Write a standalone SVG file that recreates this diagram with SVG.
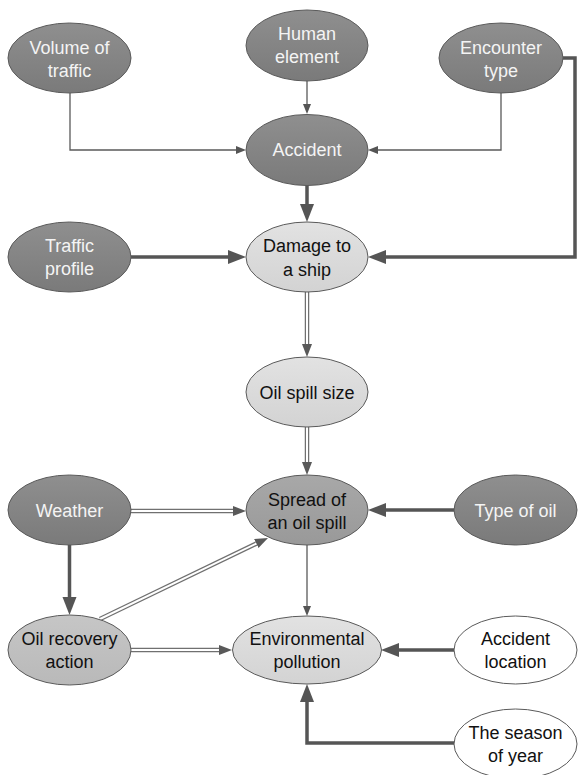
<svg xmlns="http://www.w3.org/2000/svg" width="580" height="775" viewBox="0 0 580 775">
<style>
  .node ellipse { stroke: #5a5a5a; stroke-width: 1; }
  .dark ellipse { fill: url(#gDark); }
  .mid ellipse { fill: url(#gMid); }
  .midlight ellipse { fill: url(#gMidLight); }
  .light ellipse { fill: url(#gLight); }
  .white ellipse { fill: #ffffff; }
  text { font-family: "Liberation Sans", Arial, sans-serif; font-size: 18px; text-anchor: middle; }
  .dark text { fill: #f4f4f4; }
  .mid text, .midlight text, .light text, .white text { fill: #111111; }
  .thin { fill: none; stroke: #595959; stroke-width: 1.3; }
  .thick { fill: none; stroke: #555555; stroke-width: 3.5; }
  .dbl { fill: none; stroke: #707070; stroke-width: 4.5; }
  .dblin { fill: none; stroke: #ffffff; stroke-width: 2; }
</style>
<defs>
  <linearGradient id="gDark" x1="0" y1="0" x2="0" y2="1">
    <stop offset="0" stop-color="#8f8f8f"/><stop offset="1" stop-color="#7a7a7a"/>
  </linearGradient>
  <linearGradient id="gMid" x1="0" y1="0" x2="0" y2="1">
    <stop offset="0" stop-color="#a8a8a8"/><stop offset="1" stop-color="#999999"/>
  </linearGradient>
  <linearGradient id="gMidLight" x1="0" y1="0" x2="0" y2="1">
    <stop offset="0" stop-color="#c6c6c6"/><stop offset="1" stop-color="#b9b9b9"/>
  </linearGradient>
  <linearGradient id="gLight" x1="0" y1="0" x2="0" y2="1">
    <stop offset="0" stop-color="#e2e2e2"/><stop offset="1" stop-color="#d3d3d3"/>
  </linearGradient>
  <marker id="aThin" markerUnits="userSpaceOnUse" markerWidth="12" markerHeight="10" refX="0" refY="5" orient="auto" viewBox="0 0 12 10">
    <path d="M0,1 L10,5 L0,9 z" fill="#555555"/>
  </marker>
  <marker id="aThick" markerUnits="userSpaceOnUse" markerWidth="20" markerHeight="16" refX="0" refY="8" orient="auto" viewBox="0 0 20 16">
    <path d="M0,1 L18,8 L0,15 z" fill="#555555"/>
  </marker>
  <marker id="aDbl" markerUnits="userSpaceOnUse" markerWidth="14" markerHeight="12" refX="0" refY="6" orient="auto" viewBox="0 0 14 12">
    <path d="M0,1 L13,6 L0,11 z" fill="#595959"/>
  </marker>
</defs>

<g id="connectors">
  <path class="thin" d="M70,93 V150 H236" marker-end="url(#aThin)"/>
  <path class="thin" d="M307,81 V104" marker-end="url(#aThin)"/>
  <path class="thin" d="M501,93 V150 H378" marker-end="url(#aThin)"/>
  <path class="thick" d="M307,185 V204" marker-end="url(#aThick)"/>
  <path class="thick" d="M131,257 H228" marker-end="url(#aThick)"/>
  <path class="thick" d="M563,58 H575 V257 H386" marker-end="url(#aThick)"/>
  <path class="dbl" d="M307,292 V344" marker-end="url(#aDbl)"/>
  <path class="dblin" d="M307,292 V344"/>
  <path class="dbl" d="M307,427 V462" marker-end="url(#aDbl)"/>
  <path class="dblin" d="M307,427 V462"/>
  <path class="dbl" d="M131,511 H233" marker-end="url(#aDbl)"/>
  <path class="dblin" d="M131,511 H233"/>
  <path class="thick" d="M454,510 H386" marker-end="url(#aThick)"/>
  <path class="thick" d="M69.5,545 V597" marker-end="url(#aThick)"/>
  <path class="dbl" d="M100,619 L256.3,543.6" marker-end="url(#aDbl)"/>
  <path class="dblin" d="M100,619 L256.3,543.6"/>
  <path class="thin" d="M307,545 V606" marker-end="url(#aThin)"/>
  <path class="dbl" d="M131,650 H219" marker-end="url(#aDbl)"/>
  <path class="dblin" d="M131,650 H219"/>
  <path class="thick" d="M455,650 H399" marker-end="url(#aThick)"/>
  <path class="thick" d="M455,743 H307 V702" marker-end="url(#aThick)"/>
</g>

<g id="volume-of-traffic" class="node dark">
  <ellipse cx="69.5" cy="58" rx="61.5" ry="35"/>
  <text x="69.5" y="54">Volume of</text>
  <text x="69.5" y="77">traffic</text>
</g>
<g id="human-element" class="node dark">
  <ellipse cx="307" cy="45.5" rx="61" ry="35.5"/>
  <text x="307" y="40">Human</text>
  <text x="307" y="63">element</text>
</g>
<g id="encounter-type" class="node dark">
  <ellipse cx="501" cy="58" rx="62" ry="35"/>
  <text x="501" y="54">Encounter</text>
  <text x="501" y="77">type</text>
</g>
<g id="accident" class="node dark">
  <ellipse cx="307" cy="150" rx="61" ry="35.5"/>
  <text x="307" y="156">Accident</text>
</g>
<g id="traffic-profile" class="node dark">
  <ellipse cx="69.5" cy="257" rx="61.5" ry="35"/>
  <text x="69.5" y="252">Traffic</text>
  <text x="69.5" y="275">profile</text>
</g>
<g id="damage-to-a-ship" class="node light">
  <ellipse cx="307" cy="257" rx="61" ry="35"/>
  <text x="307" y="252">Damage to</text>
  <text x="307" y="276">a ship</text>
</g>
<g id="oil-spill-size" class="node light">
  <ellipse cx="307" cy="392" rx="61" ry="35"/>
  <text x="307" y="399">Oil spill size</text>
</g>
<g id="weather" class="node dark">
  <ellipse cx="69.5" cy="510" rx="61.5" ry="35"/>
  <text x="69.5" y="517">Weather</text>
</g>
<g id="spread-of-an-oil-spill" class="node mid">
  <ellipse cx="307" cy="510" rx="61" ry="35"/>
  <text x="307" y="506">Spread of</text>
  <text x="307" y="529">an oil spill</text>
</g>
<g id="type-of-oil" class="node dark">
  <ellipse cx="515.5" cy="510" rx="61.5" ry="35"/>
  <text x="515.5" y="517">Type of oil</text>
</g>
<g id="oil-recovery-action" class="node midlight">
  <ellipse cx="69.5" cy="650" rx="61.5" ry="35"/>
  <text x="69.5" y="645">Oil recovery</text>
  <text x="69.5" y="668">action</text>
</g>
<g id="environmental-pollution" class="node light">
  <ellipse cx="307" cy="650" rx="74.5" ry="34"/>
  <text x="307" y="645">Environmental</text>
  <text x="307" y="668">pollution</text>
</g>
<g id="accident-location" class="node white">
  <ellipse cx="515.5" cy="650" rx="61.5" ry="34"/>
  <text x="515.5" y="645">Accident</text>
  <text x="515.5" y="668">location</text>
</g>
<g id="the-season-of-year" class="node white">
  <ellipse cx="515.5" cy="744" rx="61.5" ry="35"/>
  <text x="515.5" y="739">The season</text>
  <text x="515.5" y="762">of year</text>
</g>
</svg>
